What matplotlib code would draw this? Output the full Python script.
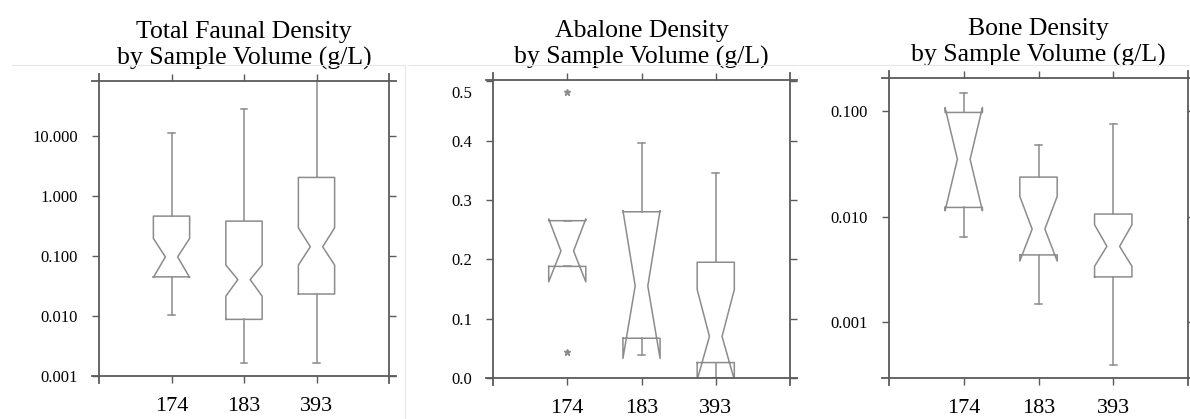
import numpy as np
import matplotlib
matplotlib.use("Agg")
import matplotlib.pyplot as plt
from matplotlib.lines import Line2D
from matplotlib.ticker import FixedLocator, FormatStrFormatter, NullLocator
from matplotlib.transforms import ScaledTranslation

plt.rcParams['font.family'] = ['Liberation Serif', 'DejaVu Serif']

# sample groups (x axis)
groups = ['174', '183', '393']

# Total faunal density (g/L), log scale
total_whislo = [0.0105, 0.00167, 0.00167]
total_q1 = [0.045, 0.0088, 0.0233]
total_cilo = [0.044, 0.0215, 0.0708]
total_med = [0.097, 0.0405, 0.143]
total_cihi = [0.197, 0.0708, 0.296]
total_q3 = [0.464, 0.383, 2.05]
total_whishi = [11.1, 28.9, 150.0]
total_fliers = [[], [], []]

# Abalone density (g/L), linear scale
abal_whislo = [0.188, 0.039, 0.0]
abal_q1 = [0.188, 0.067, 0.026]
abal_cilo = [0.162, 0.033, -0.003]
abal_med = [0.214, 0.155, 0.070]
abal_cihi = [0.268, 0.282, 0.149]
abal_q3 = [0.265, 0.280, 0.195]
abal_whishi = [0.265, 0.396, 0.346]
abal_fliers = [[0.481, 0.043], [], []]

# Bone density (g/L), log scale
bone_whislo = [0.00635, 0.0015, 0.000393]
bone_q1 = [0.0122, 0.00434, 0.00269]
bone_cilo = [0.01135, 0.0038, 0.00339]
bone_med = [0.0348, 0.00762, 0.00523]
bone_cihi = [0.107, 0.0155, 0.00837]
bone_q3 = [0.0964, 0.0236, 0.01056]
bone_whishi = [0.147, 0.047, 0.0754]
bone_fliers = [[], [], []]

W, H = 1190, 419
BOXC = '#8c8c8c'
AXC = '#5a5a5a'


def make_stats(wlo, q1, cilo, med, cihi, q3, whi, fl):
    out = []
    for i in range(len(groups)):
        out.append(dict(whislo=wlo[i], q1=q1[i], cilo=cilo[i], med=med[i],
                        cihi=cihi[i], q3=q3[i], whishi=whi[i],
                        fliers=np.array(fl[i])))
    return out


def draw_panel(ax, stats, title):
    pos = [1, 2, 3]
    width = 0.5
    art = ax.bxp(stats, positions=pos, widths=width, shownotches=True,
                 showfliers=True, capwidths=0.09,
                 boxprops=dict(color=BOXC, lw=1.1),
                 whiskerprops=dict(color=BOXC, lw=1.1),
                 capprops=dict(color=BOXC, lw=1.1),
                 medianprops=dict(linestyle='none'),
                 flierprops=dict(marker='*', markersize=5, color=BOXC,
                                 markeredgecolor=BOXC, markerfacecolor=BOXC,
                                 linestyle='none'))
    # narrower notch, like the original software
    for p, st, box in zip(pos, stats, art['boxes']):
        xs = np.array(box.get_xdata(), dtype=float)
        ys = np.array(box.get_ydata(), dtype=float)
        for i in np.where(ys == st['med'])[0]:
            xs[i] = p + np.sign(xs[i] - p) * width * 0.17
        box.set_xdata(xs)

    ax.set_xlim(0, 4)
    ax.set_xticks(pos, groups)

    # frame with lines crossing at the corners
    for s in ax.spines.values():
        s.set_visible(False)
    bb = ax.get_position()
    ex = 7 / (bb.width * W)
    ey = 7 / (bb.height * H)
    kw = dict(transform=ax.transAxes, clip_on=False, color=AXC, lw=1.3)
    ax.plot([0, 0], [-ey, 1 + ey], **kw)
    ax.plot([1, 1], [-ey, 1 + ey], **kw)
    ax.plot([-ex, 1 + ex], [0, 0], **kw)
    ax.plot([-ex, 1 + ex], [1, 1], **kw)

    ax.tick_params(which='both', direction='out', length=5, width=1.0,
                   color=AXC, top=True, right=True, pad=10)
    ax.tick_params(axis='x', labelsize=16)
    ax.tick_params(axis='y', labelsize=12)
    ax.set_title(title, fontsize=18.5, y=1.0, pad=12)


fig = plt.figure(figsize=(W / 100, H / 100), dpi=100)

ax1 = fig.add_axes([99 / W, 1 - 376 / H, 290 / W, 295 / H])
ax2 = fig.add_axes([493 / W, 1 - 378 / H, 297 / W, 298 / H])
ax3 = fig.add_axes([889 / W, 1 - 378 / H, 299 / W, 300 / H])

draw_panel(ax1, make_stats(total_whislo, total_q1, total_cilo, total_med,
                           total_cihi, total_q3, total_whishi, total_fliers),
           'Total Faunal Density\nby Sample Volume (g/L)')
ax1.set_yscale('log')
ax1.set_ylim(0.001, 10 ** 1.92)
ax1.yaxis.set_major_locator(FixedLocator([0.001, 0.01, 0.1, 1, 10]))
ax1.yaxis.set_minor_locator(NullLocator())
ax1.yaxis.set_major_formatter(FormatStrFormatter('%.3f'))

draw_panel(ax2, make_stats(abal_whislo, abal_q1, abal_cilo, abal_med,
                           abal_cihi, abal_q3, abal_whishi, abal_fliers),
           'Abalone Density\nby Sample Volume (g/L)')
ax2.set_ylim(0, 0.502)
ax2.set_yticks([0, 0.1, 0.2, 0.3, 0.4, 0.5])
ax2.yaxis.set_major_formatter(FormatStrFormatter('%.1f'))
top_lab = ax2.yaxis.get_major_ticks()[-1].label1
top_lab.set_transform(top_lab.get_transform() +
                      ScaledTranslation(0, -8 / 72, fig.dpi_scale_trans))

draw_panel(ax3, make_stats(bone_whislo, bone_q1, bone_cilo, bone_med,
                           bone_cihi, bone_q3, bone_whishi, bone_fliers),
           'Bone Density\nby Sample Volume (g/L)')
ax3.set_yscale('log')
ax3.set_ylim(0.000298, 0.204)
ax3.yaxis.set_major_locator(FixedLocator([0.001, 0.01, 0.1]))
ax3.yaxis.set_minor_locator(NullLocator())
ax3.yaxis.set_major_formatter(FormatStrFormatter('%.3f'))

# faint borders of the original image panels
faint = dict(transform=fig.transFigure, color='#e6e6e6', lw=0.8)
yl = 1 - 65 / H
for x0, x1 in [(12, 405), (409, 798), (800, 1190)]:
    fig.add_artist(Line2D([x0 / W, x1 / W], [yl, yl], **faint))
fig.add_artist(Line2D([405 / W, 405 / W], [0, yl], **faint))

fig.savefig('out.png', dpi=100)
